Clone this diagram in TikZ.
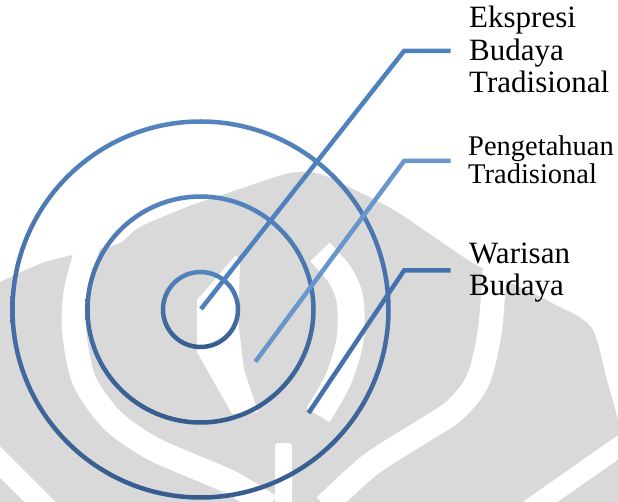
\documentclass[tikz,border=0pt]{standalone}
\usepackage{fontspec}
\setmainfont{Liberation Serif}
\definecolor{markgray}{RGB}{217,217,217}
\definecolor{ringtop}{RGB}{84,131,190}
\definecolor{ringbot}{RGB}{54,92,142}
\definecolor{leadone}{RGB}{79,129,189}
\definecolor{leadtwo}{RGB}{104,149,203}
\definecolor{leadthree}{RGB}{68,113,172}
\begin{document}
\begin{tikzpicture}[x=1pt,y=-1pt,
  ring/.style={top color=ringtop,bottom color=ringbot,even odd rule},
  lead/.style={line width=4.5pt,line join=miter},
  band/.style={draw=white,line width=24pt},
  label/.style={anchor=base west,inner sep=0pt,align=left}]
\useasboundingbox (0,0) rectangle (618,502);
% watermark
\fill[markgray] plot[smooth] coordinates {(0,282) (45,262) (95,250) (120,243) (140,227) (187,207) (237,190) (290,173) (320,174) (355,190) (394,210) (434,237) (473,263) (512,283) (552,303) (591,327) (607,380) (618,420)} -- (618,502) -- (0,502) -- cycle;
\draw[band] plot[smooth] coordinates {(88,246) (76,290) (74,330) (84,380) (112,420) (150,447) (190,465) (230,482) (270,506)};
\draw[band] plot[smooth] coordinates {(495,262) (490,330) (478,380) (455,410) (420,433) (370,465) (325,506)};
\draw[band,line width=27pt] plot[smooth] coordinates {(320,252) (340,275) (350,300) (350,340) (338,380) (318,415)};
\draw[band,line width=20pt] (640,432) -- (520,516);
\draw[band,line width=22pt] (-10,452) -- (50,512);
\fill[white] (236,255) -- (240,262) -- (238,320) -- (244,370) -- (258,412) -- (232,414) -- (197,352) -- (197,300) -- cycle;
\fill[white,rounded corners=3pt] (275,443) rectangle (292,510);
% rings
\coordinate (core) at (200.5,309.5);
\shade[ring] (core) circle (39.75) (core) circle (35.25);
\shade[ring] (core) circle (115.25) (core) circle (110.75);
\shade[ring] (core) circle (190.25) (core) circle (185.75);
% labels
\node[label,font={\fontsize{31}{32.5}\selectfont}] (ekspresi) at (469,92.7) {Ekspresi\\Budaya\\Tradisional};
\node[label,font={\fontsize{28.5}{28}\selectfont}] (pengetahuan) at (468,183.5) {Pengetahuan\\Tradisional};
\node[label,font={\fontsize{31}{32.5}\selectfont}] (warisan) at (469,296) {Warisan\\Budaya};
% leaders
\coordinate (eks-in) at (201,309);
\coordinate (eks-bend) at (404,51);
\coordinate (eks-end) at (450.5,51);
\coordinate (pen-in) at (255.4,361.7);
\coordinate (pen-bend) at (404,161);
\coordinate (pen-end) at (450.5,161);
\coordinate (war-in) at (308.6,413);
\coordinate (war-bend) at (404,270.5);
\coordinate (war-end) at (450.5,270.5);
\draw[lead,leadone] (eks-in) -- (eks-bend) -- (eks-end);
\draw[lead,leadtwo] (pen-in) -- (pen-bend) -- (pen-end);
\draw[lead,leadthree] (war-in) -- (war-bend) -- (war-end);
\end{tikzpicture}
\end{document}
